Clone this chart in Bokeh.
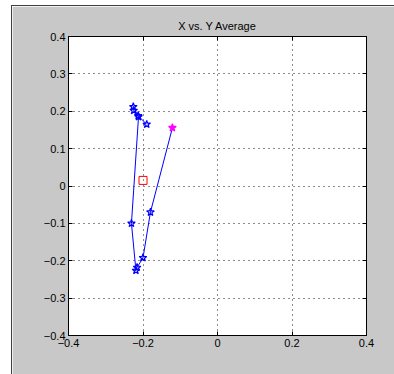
from bokeh.plotting import figure
from bokeh.models import LinearAxis, FixedTicker, Range1d
from bokeh.embed import file_html
from bokeh.resources import INLINE

# trajectory of average position (start is the magenta point)
x_vals = [-0.121, -0.180, -0.200, -0.216, -0.219, -0.231, -0.212, -0.226, -0.225, -0.213, -0.190]
y_vals = [0.156, -0.070, -0.192, -0.218, -0.226, -0.100, 0.185, 0.212, 0.202, 0.188, 0.165]
center_x = [-0.200]
center_y = [0.015]
ticks = [-0.4, -0.2, 0, 0.2, 0.4]
yticks = [-0.4, -0.3, -0.2, -0.1, 0, 0.1, 0.2, 0.3, 0.4]
title_text = "X vs. Y Average"

FONT = "Liberation Sans"
GRAY = "#c8c8c8"

p = figure(width=383, height=369, output_backend="svg", toolbar_location=None,
           x_range=Range1d(-0.4, 0.4), y_range=Range1d(-0.4, 0.4),
           title=title_text, x_axis_location=None, y_axis_location=None,
           min_border_left=56, min_border_right=29, min_border_top=30, min_border_bottom=40,
           margin=(5, 0, 0, 11))
p.styles = {"border-left": "1px solid #404040", "border-top": "1px solid #404040"}
p.border_fill_color = GRAY
p.background_fill_color = "white"
p.outline_line_color = "black"
p.outline_line_width = 1

p.title.align = "center"
p.title.text_font = FONT
p.title.text_font_size = "11px"
p.title.text_font_style = "normal"
p.title.text_color = "black"
p.title.offset = 0

def make_axis(tick_list, labels=True):
    ax = LinearAxis(ticker=FixedTicker(ticks=tick_list))
    ax.major_tick_in = 4
    ax.major_tick_out = 0
    ax.minor_tick_in = 0
    ax.minor_tick_out = 0
    ax.axis_line_color = "black"
    ax.major_tick_line_color = "black"
    ax.major_label_text_font = FONT
    ax.major_label_text_font_size = "11px"
    ax.major_label_text_color = "black"
    ax.major_label_standoff = 3
    if not labels:
        ax.major_label_text_alpha = 0
        ax.major_label_text_font_size = "1px"
    return ax

p.add_layout(make_axis(ticks), "below")
p.add_layout(make_axis(yticks), "left")
p.add_layout(make_axis(ticks, False), "above")
p.add_layout(make_axis(yticks, False), "right")

p.xgrid.ticker = FixedTicker(ticks=ticks)
p.ygrid.ticker = FixedTicker(ticks=[-0.3, -0.2, -0.1, 0, 0.1, 0.2, 0.3])
for g in (p.xgrid, p.ygrid):
    g.grid_line_color = "black"
    g.grid_line_dash = "1 4"
    g.grid_line_width = 1
    g.grid_line_alpha = 0.9

p.line(x_vals, y_vals, line_color="#0000ff", line_width=1)
p.scatter(x_vals[1:], y_vals[1:], marker="star", size=8, fill_color=None,
          line_color="#0000ff", line_width=1.2)
p.scatter(x_vals[:1], y_vals[:1], marker="star", size=8, fill_color="#ff00ff",
          line_color="#ff00ff", line_width=1.2)
p.scatter(center_x, center_y, marker="square", size=8, fill_color=None,
          line_color="#ff0000", line_width=1)

open("out.html", "w").write(file_html(p, INLINE))
